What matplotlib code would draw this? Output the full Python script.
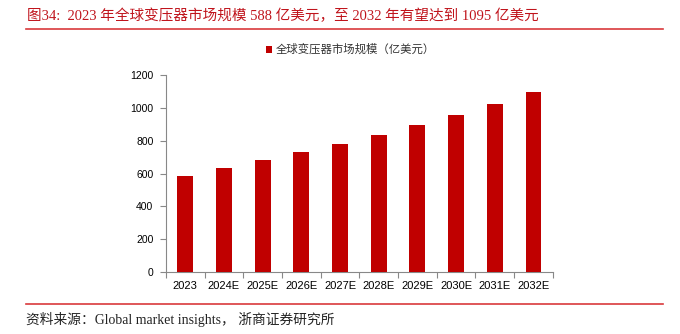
# global transformer market size bar chart
import matplotlib
matplotlib.use('Agg')
import matplotlib.pyplot as plt

years = ['2023', '2024E', '2025E', '2026E', '2027E', '2028E', '2029E', '2030E', '2031E', '2032E']
market = [588, 634, 681, 731, 779, 832, 895, 955, 1022, 1095]
yticks = [0, 200, 400, 600, 800, 1000, 1200]

TITLE = '图34:  2023 年全球变压器市场规模 588 亿美元，至 2032 年有望达到 1095 亿美元'
SOURCE = '资料来源：Global market insights， 浙商证券研究所'
LEGEND = '全球变压器市场规模（亿美元）'

SERIF = ['Liberation Serif', 'Noto Sans CJK SC']
SANS = ['Liberation Sans', 'Noto Sans CJK SC']
BAR, RED, AX = '#c00000', '#d93a3c', '#888888'

fig = plt.figure(figsize=(6.8, 3.34), dpi=100)
ax = fig.add_axes([0.244, 0.185, 0.569, 0.5905])

x = list(range(len(years)))
bars = ax.bar(x, market, width=0.41, color=BAR, label=LEGEND, zorder=3)

ax.set_xlim(-0.5, len(years) - 0.5)
ax.set_ylim(0, 1200)
ax.set_yticks(yticks)
ax.set_yticklabels([str(v) for v in yticks], fontsize=7.5, family=SANS)
ax.set_xticks(x)
ax.set_xticklabels(years, fontsize=8, family=SANS)
ax.set_xticks([i - 0.5 for i in range(len(years) + 1)], minor=True)
ax.tick_params(axis='x', which='major', length=0, pad=6)
ax.tick_params(axis='x', which='minor', length=4, color=AX, width=0.8)
ax.tick_params(axis='y', length=4, color=AX, width=0.8, pad=5)
for sp in ('top', 'right'):
    ax.spines[sp].set_visible(False)
for sp in ('left', 'bottom'):
    ax.spines[sp].set_color(AX)
    ax.spines[sp].set_linewidth(0.8)

leg = fig.legend(handles=[bars], labels=[LEGEND], loc='center left',
                 bbox_to_anchor=(266 / 680, 1 - 49.5 / 334), frameon=False,
                 handlelength=0.55, handleheight=0.55, handletextpad=0.3,
                 prop={'family': SANS, 'size': 8.2}, borderaxespad=0, borderpad=0)
for t in leg.get_texts():
    t.set_color('#333333')

fig.text(27 / 680, 1 - 15.7 / 334, TITLE, ha='left', va='center',
         fontsize=10.5, color='#c0141c', family=SERIF)
fig.add_artist(plt.Line2D([26 / 680, 663 / 680], [1 - 29.3 / 334] * 2,
                          color=RED, lw=1.2, transform=fig.transFigure))
fig.add_artist(plt.Line2D([26 / 680, 663 / 680], [1 - 304 / 334] * 2,
                          color=RED, lw=1.2, transform=fig.transFigure))
fig.text(26 / 680, 1 - 319 / 334, SOURCE, ha='left', va='center',
         fontsize=9.9, color='#222222', family=SERIF)

fig.savefig('out.png', dpi=100, facecolor='white')
